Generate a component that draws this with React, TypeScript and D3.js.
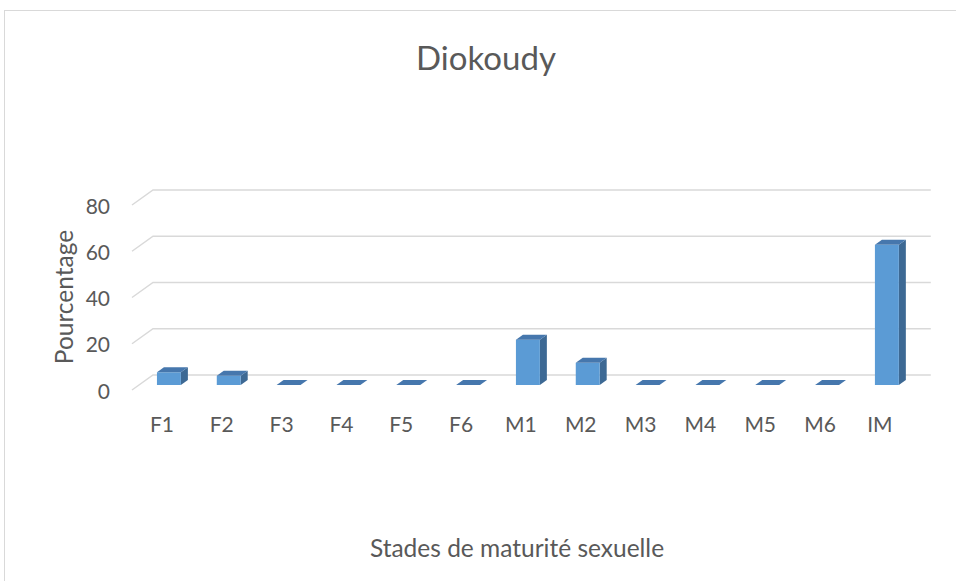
import React from "react";
import * as d3 from "d3";

// stades de maturité sexuelle - Diokoudy
const categories = ["F1", "F2", "F3", "F4", "F5", "F6", "M1", "M2", "M3", "M4", "M5", "M6", "IM"];
const percentages = [5.5, 4, 0, 0, 0, 0, 19.6, 9.6, 0, 0, 0, 0, 60.6];
const yTicks = [0, 20, 40, 60, 80];

const title = "Diokoudy";
const xTitle = "Stades de maturité sexuelle";
const yTitle = "Pourcentage";

const W = 956;
const H = 581;
const font = "Lato, 'Open Sans', sans-serif";
const textColor = "#595959";

// plot geometry (front plane) and oblique depth
const plot = { left: 132, right: 909.8, bottom: 390, top: 205 };
const depth = { dx: 21, dy: -15 };

const App = () => {
  const x = d3
    .scaleBand<string>()
    .domain(categories)
    .range([plot.left, plot.right])
    .paddingInner(0.6)
    .paddingOuter(0.3);

  const y = d3.scaleLinear().domain([0, 80]).range([plot.bottom, plot.top]);

  // bars sit in the middle third of the depth
  const bx = depth.dx / 3;
  const by = depth.dy / 3;
  const w = x.bandwidth();

  return (
    <svg width={W} height={H} style={{ position: "absolute", left: 0, top: 0, background: "#fff" }}>
      <rect x={4.5} y={10.5} width={W} height={H} fill="#fff" stroke="#d9d9d9" />

      <text x={486} y={57} textAnchor="middle" dominantBaseline="central" fontFamily={font} fontSize={33} fill={textColor}>
        {title}
      </text>

      {/* gridlines on back wall with left diagonal */}
      {yTicks.map((t) => {
        const yy = y(t);
        const path = d3.path();
        path.moveTo(plot.left, yy);
        path.lineTo(plot.left + depth.dx, yy + depth.dy);
        path.lineTo(plot.right + depth.dx, yy + depth.dy);
        return <path key={t} d={path.toString()} fill="none" stroke="#d9d9d9" strokeWidth={1.5} />;
      })}

      {yTicks.map((t) => (
        <text key={t} x={110} y={y(t)} textAnchor="end" dominantBaseline="central" fontFamily={font} fontSize={21} fill={textColor}>
          {t}
        </text>
      ))}

      {categories.map((c, i) => {
        const x0 = (x(c) as number) + bx;
        const yb = y(0) + by;
        const yt = y(percentages[i]) + by;
        const top = `M${x0},${yt}L${x0 + bx},${yt + by}L${x0 + w + bx},${yt + by}L${x0 + w},${yt}Z`;
        const side = `M${x0 + w},${yt}L${x0 + w + bx},${yt + by}L${x0 + w + bx},${yb + by}L${x0 + w},${yb}Z`;
        return (
          <g key={c}>
            {yb - yt > 0 && <path d={side} fill="#3d6994" />}
            {yb - yt > 0 && <rect x={x0} y={yt} width={w} height={yb - yt} fill="#5b9bd5" />}
            <path d={top} fill="#4677ad" />
          </g>
        );
      })}

      {categories.map((c) => (
        <text
          key={c}
          x={(x(c) as number) + w / 2}
          y={423}
          textAnchor="middle"
          dominantBaseline="central"
          fontFamily={font}
          fontSize={21}
          fill={textColor}
        >
          {c}
        </text>
      ))}

      <text
        transform="translate(63,297) rotate(-90)"
        textAnchor="middle"
        dominantBaseline="central"
        fontFamily={font}
        fontSize={24.5}
        fill={textColor}
      >
        {yTitle}
      </text>

      <text x={517} y={547} textAnchor="middle" dominantBaseline="central" fontFamily={font} fontSize={24.5} fill={textColor}>
        {xTitle}
      </text>
    </svg>
  );
};

export default App;
